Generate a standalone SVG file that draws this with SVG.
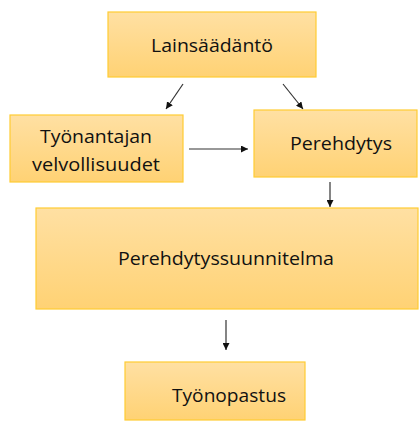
<svg xmlns="http://www.w3.org/2000/svg" width="420" height="421" viewBox="0 0 420 421">
<style>
.box{fill:url(#g);stroke:#FFCC33;stroke-width:1.2}
.t{font-family:"Open Sans","Noto Sans",sans-serif;font-size:19px;fill:#111;text-anchor:middle}
.c{stroke:#333;stroke-width:1.2;fill:none;marker-end:url(#a)}
</style>
<defs>
<linearGradient id="g" x1="0" y1="0" x2="0" y2="1">
<stop offset="0" stop-color="#FFE0A3"/>
<stop offset="1" stop-color="#FFD274"/>
</linearGradient>
<marker id="a" viewBox="0 0 10 10" refX="10" refY="5" markerWidth="7" markerHeight="7" markerUnits="userSpaceOnUse" orient="auto">
<path d="M0,0 L10,5 L0,10 z" fill="#111"/>
</marker>
</defs>
<g id="laki"><rect class="box" x="108" y="12" width="208" height="65"/><text class="t" x="212" y="52" textLength="122" lengthAdjust="spacingAndGlyphs">Lainsäädäntö</text></g>
<g id="tyonantaja"><rect class="box" x="10" y="115" width="173" height="67"/><text class="t" x="96" y="143" textLength="112" lengthAdjust="spacingAndGlyphs">Työnantajan</text><text class="t" x="96" y="171" textLength="128" lengthAdjust="spacingAndGlyphs">velvollisuudet</text></g>
<g id="perehdytys"><rect class="box" x="254" y="110" width="163" height="67"/><text class="t" x="341" y="150" textLength="102" lengthAdjust="spacingAndGlyphs">Perehdytys</text></g>
<g id="suunnitelma"><rect class="box" x="36" y="208" width="382" height="101"/><text class="t" x="226" y="265" textLength="216" lengthAdjust="spacingAndGlyphs">Perehdytyssuunnitelma</text></g>
<g id="tyonopastus"><rect class="box" x="125" y="362" width="180" height="58"/><text class="t" x="229" y="402" textLength="114" lengthAdjust="spacingAndGlyphs">Työnopastus</text></g>
<g id="connectors">
<line class="c" x1="183" y1="84" x2="166" y2="109"/>
<line class="c" x1="283" y1="84" x2="303" y2="109"/>
<line class="c" x1="189" y1="149" x2="248" y2="149"/>
<line class="c" x1="330" y1="182" x2="330" y2="207"/>
<line class="c" x1="226" y1="320" x2="226" y2="350"/>
</g>
</svg>
